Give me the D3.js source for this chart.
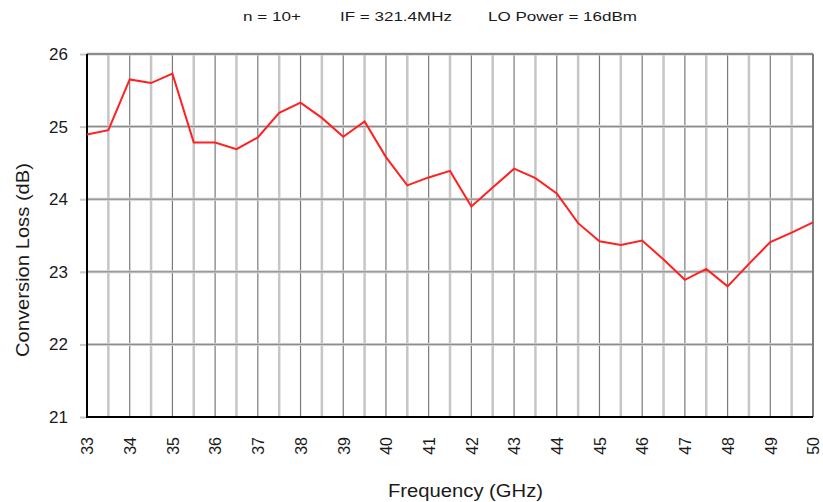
<!DOCTYPE html>
<html>
<head>
<meta charset="utf-8">
<script src="https://cdn.jsdelivr.net/npm/d3@7"></script>
<style>
  body { margin: 0; background: #fff; }
  svg text { font-family: "Liberation Sans", Arial, sans-serif; fill: #1a1a1a; }
</style>
</head>
<body>
<div id="chart"></div>
<script>
// frequency points (GHz), every 0.5
var freqs = [33, 33.5, 34, 34.5, 35, 35.5, 36, 36.5, 37, 37.5, 38, 38.5, 39, 39.5,
  40, 40.5, 41, 41.5, 42, 42.5, 43, 43.5, 44, 44.5, 45, 45.5, 46, 46.5, 47, 47.5,
  48, 48.5, 49, 49.5, 50];
// conversion loss (dB)
var lossValues = [24.89, 24.95, 25.65, 25.60, 25.73, 24.78, 24.78, 24.69, 24.85, 25.19,
  25.33, 25.12, 24.86, 25.07, 24.58, 24.19, 24.30, 24.39, 23.90, 24.16, 24.42, 24.29,
  24.08, 23.67, 23.42, 23.37, 23.43, 23.17, 22.89, 23.04, 22.80, 23.11, 23.41, 23.54, 23.68];
var xTicks = d3.range(33, 51, 1);
var yTicks = [21, 22, 23, 24, 25, 26];
var halfTicks = d3.range(33.5, 50, 1);
var title = ["n = 10+", "IF = 321.4MHz", "LO Power = 16dBm"];

var width = 823, height = 502;
var margin = { left: 87, top: 54, right: 10, bottom: 85 };

var svg = d3.select("#chart").append("svg")
  .attr("width", width)
  .attr("height", height);

var x = d3.scaleLinear().domain([33, 50]).range([margin.left, width - margin.right]);
var y = d3.scaleLinear().domain([21, 26]).range([height - margin.bottom, margin.top]);

//half GHz grid lines, light and wide
svg.append("g").selectAll("line")
  .data(halfTicks).enter()
  .append("line")
  .attr("x1", function (d) { return x(d); })
  .attr("x2", function (d) { return x(d); })
  .attr("y1", y(21)).attr("y2", y(26))
  .attr("stroke", "#c6c6c6")
  .attr("stroke-width", 2.5);

//whole GHz grid lines
svg.append("g").selectAll("line")
  .data(xTicks.slice(1)).enter()
  .append("line")
  .attr("x1", function (d) { return x(d); })
  .attr("x2", function (d) { return x(d); })
  .attr("y1", y(21)).attr("y2", y(26))
  .attr("stroke", "#7a7a7a")
  .attr("stroke-width", 1.2);

//horizontal grid: light halo with dark core
var hg = svg.append("g");
hg.selectAll("line.halo")
  .data(yTicks.slice(1)).enter()
  .append("line")
  .attr("class", "halo")
  .attr("x1", x(33)).attr("x2", x(50))
  .attr("y1", function (d) { return y(d); })
  .attr("y2", function (d) { return y(d); })
  .attr("stroke", "#cfcfcf")
  .attr("stroke-width", 3);
hg.selectAll("line.core")
  .data(yTicks.slice(1)).enter()
  .append("line")
  .attr("class", "core")
  .attr("x1", x(33)).attr("x2", x(50))
  .attr("y1", function (d) { return y(d); })
  .attr("y2", function (d) { return y(d); })
  .attr("stroke", "#858585")
  .attr("stroke-width", 1);

//y axis
var yAxis = svg.append("g")
  .attr("transform", "translate(" + x(33) + ",0)")
  .call(d3.axisLeft(y).tickValues(yTicks).tickSize(7).tickPadding(12).tickFormat(d3.format("d")));
yAxis.select(".domain").remove();
yAxis.selectAll(".tick line").attr("stroke", "#c8c8c8").attr("stroke-width", 2);
yAxis.selectAll(".tick text").style("font-size", "17px").attr("fill", "#1a1a1a");

//x axis
var xAxis = svg.append("g")
  .attr("transform", "translate(0," + y(21) + ")")
  .call(d3.axisBottom(x).tickValues(xTicks).tickSize(0).tickFormat(d3.format("d")));
xAxis.select(".domain").remove();
xAxis.selectAll(".tick text")
  .style("font-size", "16px")
  .attr("fill", "#1a1a1a")
  .attr("text-anchor", "end")
  .attr("transform", "rotate(-90)")
  .attr("x", -20)
  .attr("y", 0)
  .attr("dy", "0.36em");

//frame
svg.append("line").attr("x1", x(33)).attr("x2", x(50)).attr("y1", y(26)).attr("y2", y(26))
  .attr("stroke", "#6e6e6e").attr("stroke-width", 1.2);
svg.append("line").attr("x1", x(50)).attr("x2", x(50)).attr("y1", y(26)).attr("y2", y(21))
  .attr("stroke", "#6e6e6e").attr("stroke-width", 1.5);
svg.append("line").attr("x1", x(33)).attr("x2", x(33)).attr("y1", y(26)).attr("y2", y(21) + 1)
  .attr("stroke", "#000").attr("stroke-width", 2);
svg.append("line").attr("x1", x(33) - 1).attr("x2", x(50)).attr("y1", y(21)).attr("y2", y(21))
  .attr("stroke", "#000").attr("stroke-width", 2);

//the trace
var line = d3.line()
  .x(function (d, i) { return x(freqs[i]); })
  .y(function (d) { return y(d); });
svg.append("path")
  .datum(lossValues)
  .attr("d", line)
  .attr("fill", "none")
  .attr("stroke", "#ff2020")
  .attr("stroke-width", 2);

//header, three pieces
var headX = [243, 340, 488], headW = [58, 112, 149];
svg.append("g").selectAll("text")
  .data(title).enter()
  .append("text")
  .attr("x", function (d, i) { return headX[i]; })
  .attr("y", 21)
  .style("font-size", "13px")
  .attr("textLength", function (d, i) { return headW[i]; })
  .attr("lengthAdjust", "spacingAndGlyphs")
  .text(function (d) { return d; });

//axis titles
svg.append("text")
  .attr("x", 388).attr("y", 497)
  .style("font-size", "18px")
  .attr("textLength", 155)
  .attr("lengthAdjust", "spacingAndGlyphs")
  .text("Frequency (GHz)");
svg.append("text")
  .attr("transform", "translate(29,357) rotate(-90)")
  .style("font-size", "18px")
  .attr("textLength", 194)
  .attr("lengthAdjust", "spacingAndGlyphs")
  .text("Conversion Loss (dB)");
</script>
</body>
</html>
